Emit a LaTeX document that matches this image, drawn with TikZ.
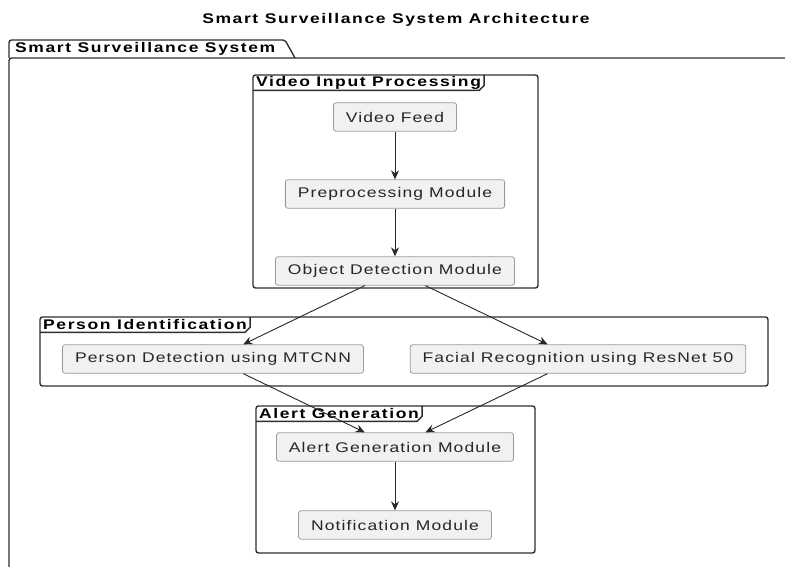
\documentclass[tikz,border=0pt]{standalone}
\usepackage{fontspec}
\setmainfont{Liberation Sans}
\newfontfamily\boxfont{Liberation Sans}[FakeStretch=1.25,LetterSpace=8]
\newfontfamily\tabfont{Liberation Sans}[FakeStretch=1.25,LetterSpace=11.5]
\usetikzlibrary{arrows.meta,positioning,calc}
\definecolor{boxfill}{HTML}{F1F1F1}
\definecolor{boxline}{HTML}{9A9A9A}
\definecolor{frameline}{HTML}{2E2E2E}
\definecolor{arrowline}{HTML}{262626}

\begin{document}
\begin{tikzpicture}[x=1pt,y=-1pt,>={Stealth[length=9pt,width=8pt,inset=3pt]},
                node distance=77pt,
                module/.style={rectangle,rounded corners=2.5pt,draw=boxline,fill=boxfill,line width=0.8pt,
                  minimum height=28.5pt,inner xsep=12.5pt,text=black!85,
                  font=\boxfont\fontsize{14}{16}\selectfont},
                frame/.style={draw=frameline,line width=1.4pt,rounded corners=2.5pt},
                tab label/.style={anchor=north west,inner xsep=3pt,inner ysep=0pt,minimum height=15pt,
                  font=\tabfont\bfseries\fontsize{14}{16}\selectfont},
                flow/.style={->,draw=arrowline,line width=0.9pt}]
                \useasboundingbox (0,0) rectangle (785,567);
                \node[font=\tabfont\bfseries\fontsize{14}{16}\selectfont] (title) at (396,20)
                  {Smart Surveillance System Architecture};

                % outer package
                \draw[frame] (9,567) -- (9,58) -- (785,58);
                \draw[frame] (9,58) -- (9,40) -- (285,40) -- (295,58);
                \node[anchor=west,inner sep=0pt,font=\tabfont\bfseries\fontsize{14}{16}\selectfont] (t0) at (15,49)
                  {Smart Surveillance System};

                % frames
                \draw[frame] (253,75) rectangle (538,288);
                \node[tab label] (t1) at (253,75) {Video Input Processing};
                \draw[frame,rounded corners=0pt] (t1.south west) -- ($(t1.south east)+(-5pt,0)$)
                  -- ($(t1.south east)+(0,5pt)$) -- (t1.north east);
                \draw[frame] (40,317) rectangle (768,386);
                \node[tab label] (t2) at (40,317) {Person Identification};
                \draw[frame,rounded corners=0pt] (t2.south west) -- ($(t2.south east)+(-5pt,0)$)
                  -- ($(t2.south east)+(0,5pt)$) -- (t2.north east);
                \draw[frame] (256,406) rectangle (535,553);
                \node[tab label] (t3) at (256,406) {Alert Generation};
                \draw[frame,rounded corners=0pt] (t3.south west) -- ($(t3.south east)+(-5pt,0)$)
                  -- ($(t3.south east)+(0,5pt)$) -- (t3.north east);

                % modules
                \node[module] (0) at (395,117) {Video Feed};
                \node[module] (1) [below of=0] {Preprocessing Module};
                \node[module] (2) [below of=1] {Object Detection Module};
                \node[module] (3) at (213,359) {Person Detection using MTCNN};
                \node[module] (4) at (578,359) {Facial Recognition using ResNet 50};
                \node[module] (5) at (395,447) {Alert Generation Module};
                \node[module] (6) [below of=5,node distance=78pt] {Notification Module};

                \path
                (0) edge[flow] (1)
                (1) edge[flow] (2)
                (2) edge[flow] (3)
                (2) edge[flow] (4)
                (3) edge[flow] (5)
                (4) edge[flow] (5)
                (5) edge[flow] (6)
                ;
\end{tikzpicture}
\end{document}
